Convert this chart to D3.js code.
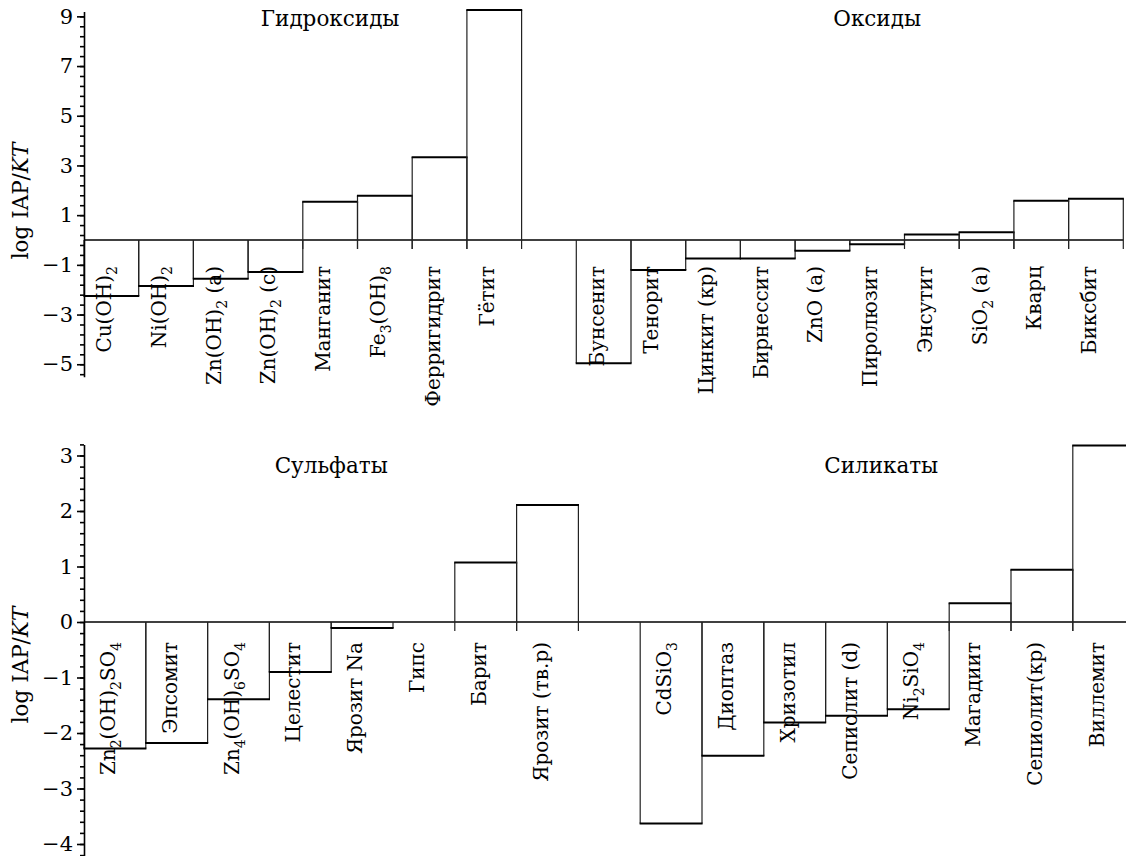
<!DOCTYPE html>
<html lang="ru">

<head>
  <meta charset="UTF-8">
  <title>log IAP/KT</title>
  <script src="https://d3js.org/d3.v7.min.js"></script>
  <style>
    body { margin: 0; background: #fff; }
    text { font-family: "DejaVu Serif", serif; fill: #000; }
  </style>
</head>

<body>
  <svg id="chart" width="1126" height="856"></svg>
  <script>
    // values ("_2" = subscript 2)
    const hydroxideNames = ["Cu(OH)_2", "Ni(OH)_2", "Zn(OH)_2 (a)", "Zn(OH)_2 (c)", "Манганит", "Fe_3(OH)_8", "Ферригидрит", "Гётит"];
    const hydroxideValues = [-2.25, -1.85, -1.56, -1.29, 1.54, 1.78, 3.33, 9.26];
    const oxideNames = ["Бунсенит", "Тенорит", "Цинкит (кр)", "Бирнессит", "ZnO (a)", "Пиролюзит", "Энсутит", "SiO_2 (a)", "Кварц", "Биксбит"];
    const oxideValues = [-4.96, -1.21, -0.74, -0.74, -0.43, -0.17, 0.22, 0.31, 1.58, 1.66];
    const sulfateNames = ["Zn_2(OH)_2SO_4", "Эпсомит", "Zn_4(OH)_6SO_4", "Целестит", "Ярозит Na", "Гипс", "Барит", "Ярозит (тв.р)"];
    const sulfateValues = [-2.28, -2.18, -1.39, -0.9, -0.11, 0, 1.07, 2.11];
    const silicateNames = ["CdSiO_3", "Диоптаз", "Хризотил", "Сепиолит (d)", "Ni_2SiO_4", "Магадиит", "Сепиолит(кр)", "Виллемит"];
    const silicateValues = [-3.63, -2.41, -1.81, -1.69, -1.57, 0.34, 0.94, 3.18];
    const topTicks = [9, 7, 5, 3, 1, -1, -3, -5];
    const bottomTicks = [3, 2, 1, 0, -1, -2, -3, -4];

    const svg = d3.select('svg#chart');
    const fmt = d => d < 0 ? '\u2212' + Math.abs(d) : String(d);
    const labelSize = 20;

    // writes "Zn_2(OH)_2" with real subscripts
    function richText(sel, str, size) {
      const parts = str.split(/_(\d+)/);
      let cur = 0;
      parts.forEach((p, i) => {
        if (p === '') return;
        const sub = i % 2 === 1;
        const off = sub ? size * 0.3 : 0;
        sel.append('tspan')
          .attr('dy', off - cur)
          .attr('font-size', sub ? size * 0.7 : size)
          .text(p);
        cur = off;
      });
    }

    function panel(cfg) {
      const g = svg.append('g');
      const x = d3.scaleBand()
        .domain(d3.range(cfg.slots))
        .range([cfg.left, cfg.left + cfg.slots * cfg.slotW])
        .padding(0);
      const y = d3.scaleLinear().domain(cfg.domain).range(cfg.range);
      const bw = x.bandwidth();

      const bars = [];
      cfg.groups.forEach(gr => gr.names.forEach((n, i) => {
        bars.push({ name: n, value: gr.values[i], slot: gr.start + i });
      }));

      // zero line
      g.append('line')
        .attr('x1', cfg.left).attr('x2', x.range()[1])
        .attr('y1', y(0)).attr('y2', y(0))
        .attr('stroke', '#000').attr('stroke-width', 1.4);

      // bars: thin sides, heavier top/bottom edge
      bars.filter(d => d.value !== 0).forEach(d => {
        const x0 = x(d.slot), x1 = x(d.slot) + bw;
        const yBase = d.value > 0 ? y(0) + 9 : y(0);
        [x0, x1].forEach(xx => {
          g.append('line')
            .attr('x1', xx).attr('x2', xx)
            .attr('y1', yBase).attr('y2', y(d.value))
            .attr('stroke', '#222').attr('stroke-width', 1.2);
        });
        g.append('line')
          .attr('x1', x0 - 0.6).attr('x2', x1 + 0.6)
          .attr('y1', y(d.value)).attr('y2', y(d.value))
          .attr('stroke', '#000').attr('stroke-width', 2);
      });

      // rotated category labels
      bars.forEach(d => {
        const t = g.append('text')
          .attr('transform', `translate(${x(d.slot) + bw / 2},${y(0) + cfg.labelOff}) rotate(-90)`)
          .attr('text-anchor', 'end')
          .attr('dy', '0.36em')
          .attr('font-size', labelSize);
        richText(t, d.name, labelSize);
      });

      // group titles
      cfg.titles.forEach(tt => {
        g.append('text')
          .attr('x', cfg.left + tt.slot * cfg.slotW)
          .attr('y', cfg.titleY)
          .attr('text-anchor', 'middle')
          .attr('font-size', 21.5)
          .text(tt.text);
      });

      // y axis: minor ticks then labelled ticks
      g.append('g')
        .attr('transform', `translate(${cfg.left},0)`)
        .call(d3.axisLeft(y).tickValues(cfg.minor).tickSize(4).tickSizeOuter(0).tickFormat(''))
        .call(a => a.select('.domain').attr('stroke-width', 1.6))
        .call(a => a.selectAll('.tick line').attr('stroke-width', 1.6));
      g.append('g')
        .attr('transform', `translate(${cfg.left},0)`)
        .call(d3.axisLeft(y).tickValues(cfg.major).tickSize(7).tickSizeOuter(0).tickPadding(4).tickFormat(fmt))
        .call(a => a.select('.domain').remove())
        .call(a => a.selectAll('.tick line').attr('stroke-width', 1.6))
        .call(a => a.selectAll('.tick text')
          .attr('font-family', '"DejaVu Serif", serif')
          .attr('font-size', 21)
          .attr('fill', '#000'));

      // axis title
      const lab = g.append('text')
        .attr('transform', `translate(28,${cfg.axisLabelY}) rotate(-90)`)
        .attr('text-anchor', 'middle')
        .attr('font-size', 21.5);
      lab.append('tspan').text('log IAP/');
      lab.append('tspan').attr('font-style', 'italic').text('KT');
    }

    panel({
      left: 84, slotW: 54.7, slots: 19,
      domain: [-5.5, 9.2], range: [240 + 5.5 * 24.85, 240 - 9.2 * 24.85],
      groups: [
        { names: hydroxideNames, values: hydroxideValues, start: 0 },
        { names: oxideNames, values: oxideValues, start: 9 }
      ],
      major: topTicks,
      minor: d3.range(-5.4, 9.01, 0.4),
      labelOff: 26,
      titles: [{ text: 'Гидроксиды', slot: 4.5 }, { text: 'Оксиды', slot: 14.5 }],
      titleY: 26,
      axisLabelY: 201
    });

    panel({
      left: 84, slotW: 61.8, slots: 17,
      domain: [-4.25, 3.2], range: [622 + 4.25 * 55.5, 622 - 3.2 * 55.5],
      groups: [
        { names: sulfateNames, values: sulfateValues, start: 0 },
        { names: silicateNames, values: silicateValues, start: 9 }
      ],
      major: bottomTicks,
      minor: d3.range(-4.2, 3.21, 0.2),
      labelOff: 20,
      titles: [{ text: 'Сульфаты', slot: 4 }, { text: 'Силикаты', slot: 12.9 }],
      titleY: 473,
      axisLabelY: 665
    });
  </script>
</body>

</html>
